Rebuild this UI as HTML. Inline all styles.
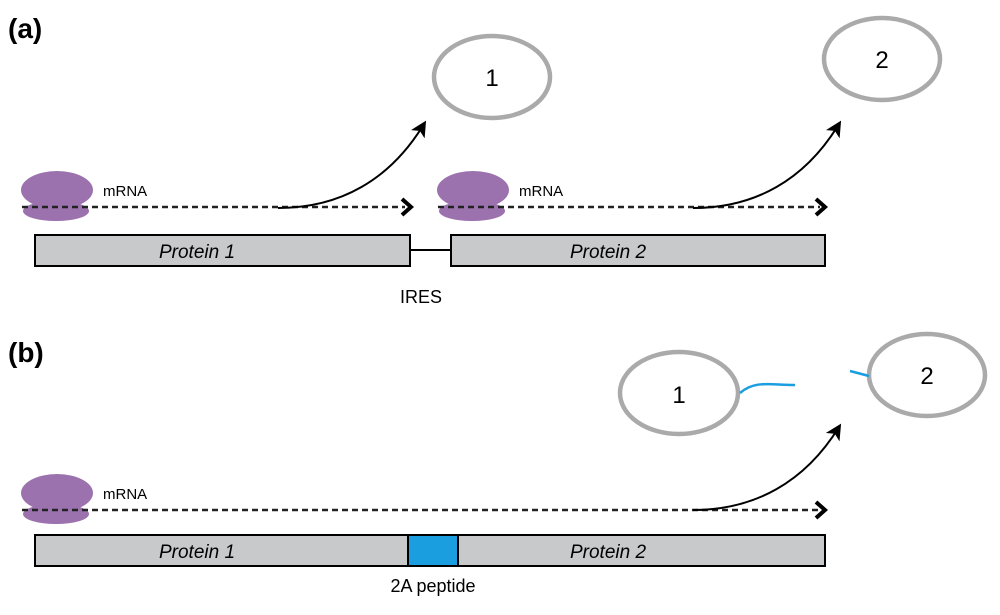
<!DOCTYPE html>
<html><head><style>body{margin:0;background:#fff}svg{display:block}</style></head><body>
<svg width="1000" height="615" viewBox="0 0 1000 615" xmlns="http://www.w3.org/2000/svg" font-family="Liberation Sans, sans-serif">
<defs>
<marker id="ah" markerWidth="16" markerHeight="16" refX="12" refY="8" orient="auto" markerUnits="userSpaceOnUse"><path d="M0,0 L16,8 L0,16 L4,8 Z" fill="#000"/></marker>
</defs>
<text x="8" y="38" font-size="28" font-weight="bold">(a)</text>
<text x="8" y="362" font-size="28" font-weight="bold">(b)</text>

<!-- (a) -->
<ellipse cx="492" cy="77" rx="58" ry="41" fill="#fff" stroke="#aaa" stroke-width="4.5"/>
<text x="492" y="86" font-size="24" text-anchor="middle">1</text>
<ellipse cx="882" cy="59" rx="58" ry="41" fill="#fff" stroke="#aaa" stroke-width="4.5"/>
<text x="882" y="68" font-size="24" text-anchor="middle">2</text>

<g fill="#9b72ad">
<ellipse cx="57" cy="190" rx="36" ry="19"/><ellipse cx="56" cy="211" rx="33" ry="10"/>
<ellipse cx="473" cy="190" rx="36" ry="19"/><ellipse cx="472" cy="211" rx="33" ry="10"/>
</g>
<line x1="22" y1="207" x2="405" y2="207" stroke="#222" stroke-width="2.5" stroke-dasharray="6,4"/>
<path d="M402,199 L411,207 L402,215" fill="none" stroke="#000" stroke-width="4"/>
<line x1="438" y1="207" x2="820" y2="207" stroke="#222" stroke-width="2.5" stroke-dasharray="6,4"/>
<path d="M816,199 L825,207 L816,215" fill="none" stroke="#000" stroke-width="4"/>
<text x="103" y="196" font-size="15">mRNA</text>
<text x="519" y="196" font-size="15">mRNA</text>
<path d="M278,208 C340,208 390,180 424,124" fill="none" stroke="#000" stroke-width="2" marker-end="url(#ah)"/>
<path d="M693,208 C755,208 805,180 839,124" fill="none" stroke="#000" stroke-width="2" marker-end="url(#ah)"/>

<rect x="35" y="235" width="375" height="31" fill="#c8c9cb" stroke="#000" stroke-width="2"/>
<rect x="451" y="235" width="374" height="31" fill="#c8c9cb" stroke="#000" stroke-width="2"/>
<line x1="410" y1="250" x2="451" y2="250" stroke="#000" stroke-width="2"/>
<text x="197" y="258" font-size="19" font-style="italic" text-anchor="middle">Protein 1</text>
<text x="608" y="258" font-size="19" font-style="italic" text-anchor="middle">Protein 2</text>
<text x="421" y="303" font-size="18" text-anchor="middle">IRES</text>

<!-- (b) -->
<ellipse cx="679" cy="393" rx="59" ry="41" fill="#fff" stroke="#aaa" stroke-width="4.5"/>
<text x="679" y="403" font-size="24" text-anchor="middle">1</text>
<ellipse cx="927" cy="375" rx="58" ry="41" fill="#fff" stroke="#aaa" stroke-width="4.5"/>
<text x="927" y="384" font-size="24" text-anchor="middle">2</text>
<path d="M740,393 C755,380 770,385 795,385" fill="none" stroke="#1a9ee0" stroke-width="2.5"/>
<path d="M850,371 L869,376" fill="none" stroke="#1a9ee0" stroke-width="2.5"/>

<g fill="#9b72ad">
<ellipse cx="57" cy="493" rx="36" ry="19"/><ellipse cx="56" cy="514" rx="33" ry="10"/>
</g>
<line x1="22" y1="510" x2="820" y2="510" stroke="#222" stroke-width="2.5" stroke-dasharray="6,4"/>
<path d="M816,502 L825,510 L816,518" fill="none" stroke="#000" stroke-width="4"/>
<text x="103" y="499" font-size="15">mRNA</text>
<path d="M693,510 C755,510 805,482 839,427" fill="none" stroke="#000" stroke-width="2" marker-end="url(#ah)"/>

<rect x="35" y="535" width="790" height="31" fill="#c8c9cb" stroke="#000" stroke-width="2"/>
<rect x="408" y="535" width="50" height="31" fill="#1a9ee0" stroke="#000" stroke-width="2"/>
<text x="197" y="558" font-size="19" font-style="italic" text-anchor="middle">Protein 1</text>
<text x="608" y="558" font-size="19" font-style="italic" text-anchor="middle">Protein 2</text>
<text x="433" y="592" font-size="18" text-anchor="middle">2A peptide</text>
</svg>
</body></html>
